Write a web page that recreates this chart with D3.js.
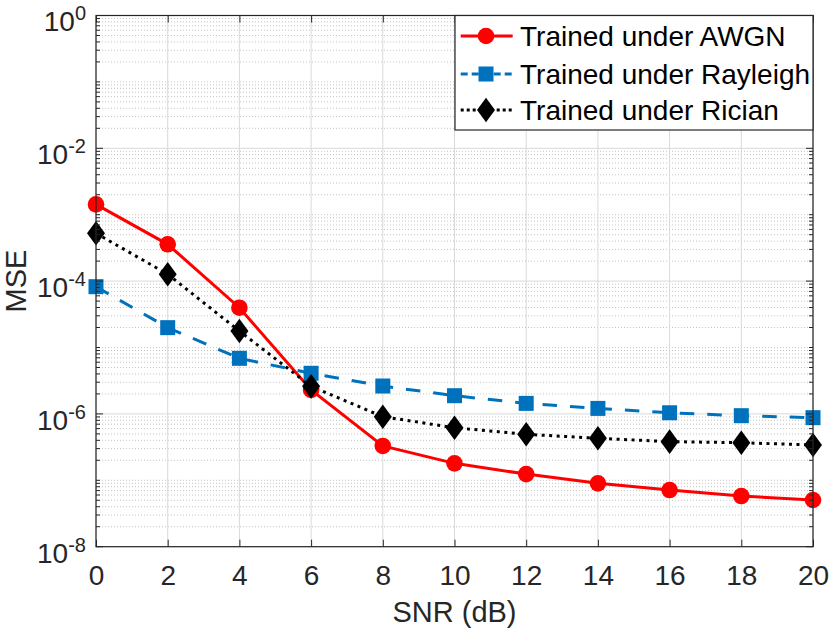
<!DOCTYPE html>
<html>
<head>
<meta charset="utf-8">
<script src="https://cdn.jsdelivr.net/npm/d3@7"></script>
<style>
  body { margin: 0; background: #fff; }
  text { font-family: "Liberation Sans", Arial, Helvetica, sans-serif; fill: #262626; }
</style>
</head>
<body>
<div id="chart"></div>
<script>
// SNR points (dB)
const snr = [0, 2, 4, 6, 8, 10, 12, 14, 16, 18, 20];
// MSE per training channel
const awgn = [1.43e-3, 3.58e-4, 3.97e-5, 2.3e-6, 3.29e-7, 1.80e-7, 1.24e-7, 9.0e-8, 7.14e-8, 5.8e-8, 5.05e-8];
const rayleigh = [8.24e-5, 1.99e-5, 6.87e-6, 4.09e-6, 2.63e-6, 1.88e-6, 1.44e-6, 1.21e-6, 1.04e-6, 9.4e-7, 8.77e-7];
const rician = [5.25e-4, 1.27e-4, 1.77e-5, 2.6e-6, 9.08e-7, 6.19e-7, 4.93e-7, 4.29e-7, 3.82e-7, 3.68e-7, 3.40e-7];
const seriesNames = ['Trained under AWGN', 'Trained under Rayleigh', 'Trained under Rician'];
// y tick labels as exponents of 10
const yExponents = [0, -2, -4, -6, -8];

const width = 830, height = 632;
const margin = { left: 96, top: 15.5, right: 17, bottom: 85.3 };
const iw = width - margin.left - margin.right;
const ih = height - margin.top - margin.bottom;
const ink = '#262626';

const svg = d3.select('#chart').append('svg')
    .attr('width', width)
    .attr('height', height);

const g = svg.append('g')
    .attr('transform', `translate(${margin.left},${margin.top})`);

const x = d3.scaleLinear().domain([0, 20]).range([0, iw]);
const y = d3.scaleLog().domain([1e-8, 1]).range([ih, 0]);

// minor values on the log axis
const minor = [];
for (let e = -8; e < 0; e++) {
    for (let k = 1; k <= 9; k++) {
        const v = k * Math.pow(10, e);
        if (k === 1 && yExponents.includes(e)) continue;
        minor.push(v);
    }
}
const major = yExponents.map(e => Math.pow(10, e));

// grid
g.append('g').selectAll('line')
    .data(minor)
    .join('line')
    .attr('x1', 0).attr('x2', iw)
    .attr('y1', d => y(d)).attr('y2', d => y(d))
    .attr('stroke', '#c4c4c4')
    .attr('stroke-width', 1)
    .attr('stroke-dasharray', '1,2');

g.append('g').selectAll('line')
    .data(major)
    .join('line')
    .attr('x1', 0).attr('x2', iw)
    .attr('y1', d => y(d)).attr('y2', d => y(d))
    .attr('stroke', '#d9d9d9');

g.append('g').selectAll('line')
    .data(snr)
    .join('line')
    .attr('x1', d => x(d)).attr('x2', d => x(d))
    .attr('y1', 0).attr('y2', ih)
    .attr('stroke', '#d9d9d9');

// series
const series = [
    { name: seriesNames[0], values: awgn, color: '#ff0000', dash: null, marker: 'circle' },
    { name: seriesNames[1], values: rayleigh, color: '#0072bd', dash: '14.5,13', marker: 'square' },
    { name: seriesNames[2], values: rician, color: '#000000', dash: '3,4.5', marker: 'diamond' }
];

const line = d3.line()
    .x((d, i) => x(snr[i]))
    .y(d => y(d));

function drawMarker(sel, type, color) {
    if (type === 'circle') {
        sel.append('circle').attr('r', 8.3).attr('fill', color);
    } else if (type === 'square') {
        sel.append('rect').attr('x', -7.5).attr('y', -7.5).attr('width', 15).attr('height', 15).attr('fill', color);
    } else {
        sel.append('path').attr('d', 'M0,-12.3L9,0L0,12.3L-9,0Z').attr('fill', color);
    }
}

series.forEach(s => {
    g.append('path')
        .datum(s.values)
        .attr('d', line)
        .attr('fill', 'none')
        .attr('stroke', s.color)
        .attr('stroke-width', 3)
        .attr('stroke-dasharray', s.dash);
});
series.forEach(s => {
    g.append('g').selectAll('g')
        .data(s.values)
        .join('g')
        .attr('transform', (d, i) => `translate(${x(snr[i])},${y(d)})`)
        .each(function() { drawMarker(d3.select(this), s.marker, s.color); });
});

// axes box and ticks
const axisG = g.append('g');
axisG.append('rect')
    .attr('width', iw).attr('height', ih)
    .attr('fill', 'none').attr('stroke', ink).attr('stroke-width', 1.2);

const xb = d3.axisBottom(x).tickValues(snr).tickSize(-7).tickPadding(0).tickFormat(d3.format('d'));
const xBottom = axisG.append('g').attr('transform', `translate(0,${ih})`).call(xb);
xBottom.select('.domain').remove();
xBottom.selectAll('line').attr('stroke', ink);
xBottom.selectAll('text')
    .attr('y', 38.8).attr('dy', null)
    .style('font-size', '28px');

const xt = d3.axisTop(x).tickValues(snr).tickSize(-7).tickFormat('');
const xTop = axisG.append('g').call(xt);
xTop.select('.domain').remove();
xTop.selectAll('line').attr('stroke', ink);

[0, iw].forEach(px => {
    const dir = px === 0 ? 1 : -1;
    axisG.append('g').selectAll('line')
        .data(major)
        .join('line')
        .attr('x1', px).attr('x2', px + dir * 7)
        .attr('y1', d => y(d)).attr('y2', d => y(d))
        .attr('stroke', ink);
    axisG.append('g').selectAll('line')
        .data(minor)
        .join('line')
        .attr('x1', px).attr('x2', px + dir * 4)
        .attr('y1', d => y(d)).attr('y2', d => y(d))
        .attr('stroke', ink);
});

// y tick labels, 10^e
const yl = axisG.append('g').selectAll('text')
    .data(yExponents)
    .join('text')
    .attr('text-anchor', 'end')
    .attr('x', -10)
    .attr('y', d => y(Math.pow(10, d)) + 15.8);
yl.append('tspan').style('font-size', '28px').text('10');
yl.append('tspan').style('font-size', '20px').attr('dy', -11).text(d => d === 0 ? '0' : '-' + Math.abs(d));

// axis titles
svg.append('text')
    .attr('x', margin.left + iw / 2)
    .attr('y', 622)
    .attr('text-anchor', 'middle')
    .style('font-size', '29px')
    .text('SNR (dB)');

svg.append('text')
    .attr('transform', `translate(25.5,${margin.top + ih / 2}) rotate(-90)`)
    .attr('text-anchor', 'middle')
    .style('font-size', '29px')
    .text('MSE');

// legend
const lg = g.append('g').attr('transform', `translate(${iw - 358},0)`);
lg.append('rect')
    .attr('width', 358).attr('height', 114.5)
    .attr('fill', '#fff').attr('stroke', ink).attr('stroke-width', 1.2);
const rowY = [20.5, 58.5, 94.5];
series.forEach((s, i) => {
    const row = lg.append('g').attr('transform', `translate(0,${rowY[i]})`);
    row.append('line')
        .attr('x1', 5.7).attr('x2', 57.7)
        .attr('stroke', s.color)
        .attr('stroke-width', 3)
        .attr('stroke-dasharray', s.marker === 'square' ? '7,4' : (s.dash ? '3,3' : null));
    const m = row.append('g').attr('transform', 'translate(31,0)');
    drawMarker(m, s.marker, s.color);
    row.append('text')
        .attr('x', 65)
        .attr('y', 10)
        .style('font-size', '28px')
        .style('fill', '#000')
        .text(s.name);
});
</script>
</body>
</html>
